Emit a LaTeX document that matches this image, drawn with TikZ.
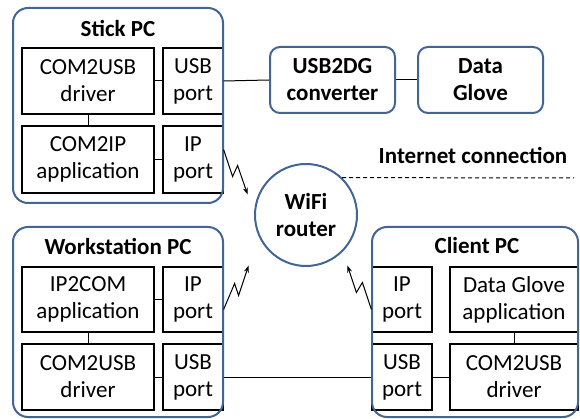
\documentclass[tikz,border=0pt]{standalone}
\usepackage{fontspec}
\setmainfont{Carlito}
\usetikzlibrary{arrows.meta,calc}
\definecolor{frameblue}{RGB}{66,101,150}
\begin{document}
\begin{tikzpicture}[x=1pt,y=-1pt,
  every node/.style={font=\fontsize{23}{27}\selectfont, align=center, inner sep=0pt},
  inbox/.style={draw=black, line width=1.2pt, minimum width=#1},
  inbox/.default=132,
  frame/.style={draw=frameblue, line width=2pt, rounded corners=15pt},
  dev/.style={draw=frameblue, line width=2pt, rounded corners=10pt, minimum width=125, minimum height=66, font=\fontsize{23}{27}\selectfont\bfseries},
  title/.style={font=\fontsize{23}{27}\selectfont\bfseries},
  link/.style={draw=black, line width=1pt},
  bolt/.style={draw=black, line width=1pt, -{Stealth[length=7pt,width=5pt]}}
]
\useasboundingbox (0,0) rectangle (580,419);
% ---------- Stick PC ----------
\node[inbox=132, minimum height=66] (drvS) at (88,81) {COM2USB\\driver};
\node[inbox=60, minimum height=66] (usbS) at (193,81) {USB\\port};
\node[inbox=132, minimum height=67] (appS) at (88,159.5) {COM2IP\\application};
\node[inbox=60, minimum height=67] (ipS) at (193,159.5) {IP\\port};
\draw[frame] (13,8) rectangle (223,203);
\node[title] (tS) at (118,29) {Stick PC};
\draw[link] (drvS.east) -- (usbS.west);
\draw[link] (drvS.south) -- (appS.north);
\draw[link] (appS.east) -- (ipS.west);
% ---------- converter & glove ----------
\node[dev] (conv) at (332.5,80) {USB2DG\\converter};
\node[dev] (glove) at (480.5,80) {Data\\Glove};
\draw[link] (usbS.east) -- (conv.west);
\draw[link] (conv.east) -- (glove.west);
% ---------- router ----------
\node[draw=frameblue, line width=2pt, circle, minimum size=102, font=\fontsize{23}{27}\selectfont\bfseries] (router) at (306,215) {WiFi\\router};
\node[title] (inet) at (473,156) {Internet connection};
\coordinate (inetEnd) at (574,178);
\draw[black, line width=1pt, dash pattern=on 4pt off 3pt] (router.46.5) -- (inetEnd);
% ---------- Workstation PC ----------
\node[inbox=132, minimum height=65] (appW) at (88,299.5) {IP2COM\\application};
\node[inbox=60, minimum height=65] (ipW) at (193,299.5) {IP\\port};
\node[inbox=132, minimum height=66] (drvW) at (88,377) {COM2USB\\driver};
\node[inbox=60, minimum height=66] (usbW) at (193,377) {USB\\port};
\draw[frame] (13,227) rectangle (223,417);
\node[title] (tW) at (118,246) {Workstation PC};
\draw[link] (appW.east) -- (ipW.west);
\draw[link] (appW.south) -- (drvW.north);
\draw[link] (drvW.east) -- (usbW.west);
% ---------- Client PC ----------
\node[inbox=60, minimum height=65] (ipC) at (402,299.5) {IP\\port};
\node[inbox=128, minimum height=65] (appC) at (514,299.5) {Data Glove\\application};
\node[inbox=60, minimum height=66] (usbC) at (402,377) {USB\\port};
\node[inbox=128, minimum height=66] (drvC) at (514,377) {COM2USB\\driver};
\draw[frame] (372,227) rectangle (578,417);
\node[title] (tC) at (477,246) {Client PC};
\draw[link] (usbC.east) -- (drvC.west);
\draw[link] (appC.south) -- (drvC.north);
\draw[link] (usbW.east) -- (usbC.west);
% ---------- wireless links ----------
\draw[bolt] ([yshift=10pt]ipS.east) -- ++(9,27) -- ++(5,-11) -- ++(10,29);
\draw[bolt] ([yshift=-10pt]ipW.east) -- ++(11,-26) -- ++(4,12) -- ++(10,-30);
\draw[bolt] ([yshift=-10pt]ipC.west) -- ++(-9,-27) -- ++(-6,10) -- ++(-9,-27);
\end{tikzpicture}
\end{document}
